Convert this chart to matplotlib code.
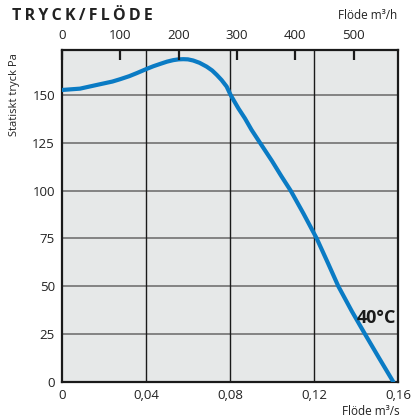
import matplotlib
matplotlib.use("Agg")
import matplotlib.pyplot as plt

# Fan curve: flow in m3/s, static pressure in Pa
flow = [0.000, 0.0086, 0.0181, 0.0240, 0.0276, 0.0320, 0.0356, 0.0403, 0.0435,
        0.0467, 0.0500, 0.0530, 0.0555, 0.0578, 0.0600, 0.0625, 0.0655, 0.0689,
        0.0715, 0.0737, 0.0760, 0.0784, 0.0803, 0.0840, 0.0871, 0.0903, 0.0943,
        0.1000, 0.1045, 0.1089, 0.1150, 0.1213, 0.1265, 0.1316, 0.1380, 0.1443,
        0.1510, 0.1578]
pressure = [152.6, 153.3, 155.6, 157.0, 158.2, 159.8, 161.4, 163.6, 165.0,
            166.2, 167.4, 168.2, 168.6, 168.7, 168.6, 168.0, 166.8, 164.8,
            162.8, 160.5, 157.8, 154.4, 150.0, 143.0, 137.8, 131.7, 125.0,
            115.5, 107.5, 100.0, 88.0, 75.0, 62.5, 50.0, 37.0, 25.0,
            12.5, 0.0]

x_ticks = [0, 0.04, 0.08, 0.12, 0.16]
x_labels = ["0", "0,04", "0,08", "0,12", "0,16"]
y_ticks = [0, 25, 50, 75, 100, 125, 150]
top_ticks = [0, 100, 200, 300, 400, 500]   # m3/h

plt.rcParams['font.family'] = ['Open Sans', 'DejaVu Sans']

fig = plt.figure(figsize=(4.13, 4.19), dpi=100)
ax = fig.add_axes([0.150, 0.0883, 0.8137, 0.7924])
ax.set_facecolor('#e6e8e8')

ax.set_xlim(0, 0.16)
ax.set_ylim(0, 173.5)

# grid: horizontal grey, vertical dark
for y in y_ticks[1:]:
    ax.axhline(y, color='#7b7b7b', lw=1.3, zorder=1)
for x in x_ticks[1:-1]:
    ax.axvline(x, color='#1a1a1a', lw=1.0, zorder=1)

ax.plot(flow, pressure, color='#0a7bc4', lw=3, solid_capstyle='round',
        solid_joinstyle='round', zorder=3)

ax.set_xticks(x_ticks)
ax.set_xticklabels(x_labels)
ax.set_yticks(y_ticks)
ax.tick_params(axis='both', length=0, labelsize=9.5, colors='#222222', pad=5)
for s in ax.spines.values():
    s.set_linewidth(1.6)
    s.set_color('#1a1a1a')

# top axis in m3/h
ax2 = ax.twiny()
ax2.set_xlim(0, 0.16 * 3600)
ax2.set_xticks(top_ticks)
ax2.tick_params(axis='x', direction='in', length=7, width=1.6, labelsize=9.5,
                colors='#1a1a1a', labelcolor='#222222', pad=6)
for s in ax2.spines.values():
    s.set_visible(False)

fig.text(0.029, 0.963, "T\u2009R\u2009Y\u2009C\u2009K\u2009/\u2009F\u2009L\u2009Ö\u2009D\u2009E",
         fontsize=11.5, fontweight='bold', color='#222222', va='center', ha='left')
fig.text(0.963, 0.963, "Flöde m³/h", fontsize=8.5, color='#222222', va='center', ha='right')
fig.text(0.968, 0.018, "Flöde m³/s", fontsize=8.5, color='#222222', va='center', ha='right')
fig.text(0.036, 0.775, "Statiskt tryck Pa", fontsize=8, color='#222222', rotation=90,
         va='center', ha='center')

ax.text(0.1592, 33.5, "40°C", fontsize=13, fontweight='bold', color='#1a1a1a',
        ha='right', va='center', zorder=4)

fig.savefig("out.png", dpi=100)
